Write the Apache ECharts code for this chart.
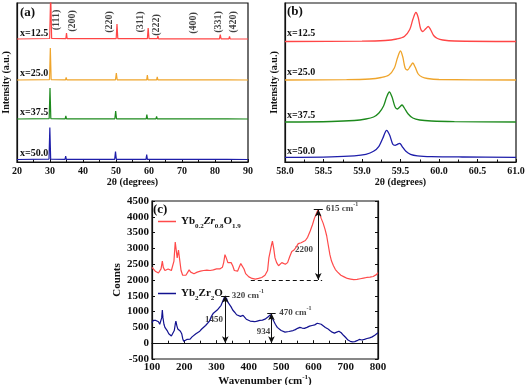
<!DOCTYPE html>
<html>
<head>
<meta charset="utf-8">
<script src="https://cdn.jsdelivr.net/npm/echarts@6/dist/echarts.min.js"></script>
<style>
  html, body { margin: 0; padding: 0; background: #fff; }
  #chart { width: 525px; height: 385px; }
</style>
</head>
<body>
<div id="chart"></div>
<script>
// ---- data ----
const sampleNames = ['x=12.5', 'x=25.0', 'x=37.5', 'x=50.0']
const xrdColors = ['#ff4545', '#efa52c', '#1d8a1d', '#1e1eaa']

// (a) XRD patterns, [2theta, intensity above baseline]
const xrd125 = [[20,0],[29.9,0.5],[30.2,45],[30.5,0.5],[34.8,0.3],[35.0,6],[35.2,0.3],[50.05,0.3],[50.3,15],[50.55,0.3],[59.5,0.3],[59.75,11],[60.0,0.3],[62.5,0.3],[62.7,3],[62.9,0.2],[73.6,0.2],[73.8,1.5],[74.0,0.2],[81.35,0.2],[81.6,4.5],[81.85,0.2],[84.2,0.2],[84.4,2.5],[84.6,0.2],[90,0]]
const xrd250 = [[20,0],[29.85,0.4],[30.1,32],[30.35,0.4],[34.7,0.2],[34.9,2.5],[35.1,0.2],[49.85,0.2],[50.1,7],[50.35,0.2],[59.3,0.2],[59.5,5],[59.7,0.2],[62.3,0.2],[62.5,3],[62.7,0.2],[73.4,0.1],[73.6,0.8],[73.8,0.1],[81.1,0.1],[81.3,2],[81.5,0.1],[83.9,0.1],[84.1,1.2],[84.3,0.1],[90,0]]
const xrd375 = [[20,0],[29.75,0.4],[30.0,31],[30.25,0.4],[34.6,0.2],[34.8,3],[35.0,0.2],[49.65,0.2],[49.9,8],[50.15,0.2],[59.15,0.2],[59.35,4.5],[59.55,0.2],[62.1,0.2],[62.3,2.5],[62.5,0.2],[73.1,0.1],[73.3,0.8],[73.5,0.1],[80.9,0.1],[81.1,1.5],[81.3,0.1],[83.7,0.1],[83.9,1],[84.1,0.1],[90,0]]
const xrd500 = [[20,0],[29.7,0.4],[29.95,32],[30.2,0.4],[34.55,0.2],[34.75,3.5],[34.95,0.2],[49.6,0.2],[49.85,8],[50.1,0.2],[59.1,0.2],[59.3,5],[59.5,0.2],[62.05,0.2],[62.25,2],[62.45,0.2],[73.0,0.1],[73.2,0.8],[73.4,0.1],[80.8,0.1],[81.0,2],[81.2,0.1],[83.6,0.1],[83.8,1],[84.0,0.1],[90,0]]
const xrdOffsets = [123, 82, 43, 2.5]

const hklNames = ['(111)', '(200)', '(220)', '(311)', '(222)', '(400)', '(331)', '(420)']
const hklX = [32.0, 36.7, 48.1, 57.5, 62.2, 73.5, 81.1, 85.6]
const hklY = [142, 141, 140, 140, 137, 139, 140, 140]

// (b) zoom on the (311) doublet
const zoom125 = [[58,0],[59.0,0.3],[59.3,1],[59.45,2.5],[59.55,5],[59.62,12],[59.66,22],[59.70,29],[59.73,24],[59.76,13],[59.79,10],[59.83,13],[59.86,15],[59.89,12],[59.93,6],[59.98,3],[60.05,1.5],[60.2,0.5],[61,0]]
const zoom250 = [[58,0],[58.8,0.3],[59.1,1],[59.25,2.5],[59.35,5],[59.42,12],[59.46,22],[59.50,29],[59.53,23],[59.56,12],[59.59,10],[59.63,14],[59.66,17],[59.69,13],[59.73,6],[59.78,3],[59.85,1.5],[60.0,0.5],[61,0]]
const zoom375 = [[58,0],[58.6,0.5],[58.9,1.5],[59.05,3],[59.15,5],[59.22,9],[59.28,16],[59.32,25],[59.355,30],[59.39,25],[59.43,15],[59.46,13],[59.49,15],[59.52,17],[59.55,14],[59.6,8],[59.66,4],[59.75,2],[59.9,1],[60.2,0.4],[61,0]]
const zoom500 = [[58,0],[58.6,0.5],[58.9,1.5],[59.05,3],[59.15,6],[59.22,11],[59.27,19],[59.32,27],[59.36,22],[59.40,13],[59.43,12],[59.46,13],[59.49,14],[59.52,11],[59.57,6],[59.63,3],[59.72,1.5],[59.9,0.7],[60.3,0.3],[61,0]]
const zoomOffsets = [120.5, 82, 40, 4.7]

// (c) Raman spectra, [wavenumber, counts]
const ramanNames = ['Yb0.2Zr0.8O1.9', 'Yb2Zr2O7']
const ramanColors = ['#ff4a4a', '#121290']
const ramanFluorite = [[100,2400],[105,2350],[110,2280],[115,2250],[120,2220],[125,2230],[128,2350],[132,2600],[135,2400],[140,2300],[145,2330],[150,2350],[155,2320],[160,2300],[165,2350],[168,2600],[172,3200],[175,2950],[178,2700],[182,2950],[185,2700],[190,2300],[195,2150],[200,2100],[205,2150],[210,2200],[215,2320],[220,2250],[230,2200],[240,2250],[250,2280],[260,2300],[270,2310],[280,2300],[290,2320],[300,2350],[305,2400],[310,2350],[318,2400],[322,2550],[326,2800],[330,2700],[335,2550],[340,2580],[345,2550],[350,2450],[355,2300],[360,2250],[365,2280],[370,2400],[375,2520],[380,2500],[385,2350],[390,2200],[400,2100],[410,2050],[420,2030],[430,2050],[440,2080],[450,2150],[458,2300],[462,2700],[466,2900],[470,3100],[473,3230],[477,3000],[481,2700],[486,2550],[492,2450],[497,2480],[502,2550],[507,2530],[513,2500],[520,2550],[527,2750],[533,2900],[540,2950],[547,3050],[553,3150],[557,3200],[562,3180],[568,3200],[575,3250],[582,3350],[590,3550],[597,3750],[603,3950],[609,4100],[614,4220],[619,4100],[624,3950],[630,3800],[636,3600],[641,3400],[646,3100],[651,2800],[656,2600],[662,2450],[668,2330],[675,2250],[685,2150],[695,2100],[705,2050],[715,2030],[725,2010],[735,2020],[745,2040],[755,2060],[765,2080],[775,2090],[785,2110],[795,2170],[800,2230]]
const ramanPyrochlore = [[100,650],[104,720],[108,730],[112,720],[116,700],[120,680],[124,600],[127,560],[130,800],[132,1050],[134,800],[137,600],[140,500],[144,450],[148,380],[152,300],[156,250],[160,230],[165,280],[169,400],[172,600],[174,700],[177,550],[180,450],[184,420],[188,380],[192,300],[195,150],[198,60],[201,100],[204,50],[208,120],[213,150],[218,130],[224,200],[230,250],[236,300],[242,350],[248,380],[254,450],[260,500],[266,560],[272,600],[278,700],[284,850],[290,950],[296,1000],[302,1050],[308,1100],[314,1200],[320,1350],[324,1450],[327,1500],[331,1420],[335,1300],[340,1250],[345,1150],[350,1050],[356,980],[362,900],[368,870],[374,850],[378,900],[382,880],[387,820],[392,760],[398,720],[404,700],[410,720],[418,680],[426,700],[434,720],[442,730],[450,760],[458,820],[463,860],[467,900],[470,950],[473,850],[477,700],[482,600],[488,500],[494,450],[500,400],[506,380],[512,350],[518,330],[524,370],[530,380],[537,400],[544,430],[551,470],[558,500],[565,480],[572,470],[580,500],[588,540],[596,560],[604,580],[612,630],[618,650],[624,600],[630,560],[637,500],[644,460],[651,400],[658,350],[665,320],[672,350],[679,380],[686,330],[693,250],[700,180],[707,100],[714,60],[721,40],[728,50],[735,80],[742,120],[750,100],[758,120],[766,150],[774,170],[782,200],[790,250],[800,330]]

// annotation values in (c)
const fluoriteBase = 2000
const fluoriteBaseSpan = [406, 627]
const fluoritePeak = [615, 4230]
const pyroBase = 0
const pyroBaseSpan = [181, 496]
const pyroPeak1 = [327, 1500]
const pyroPeak2 = [470, 950]
const noteX = [639, 571, 347, 292, 494, 445]
const noteY = [4250, 2950, 1500, 750, 960, 350]
const noteText = ['{b|615 cm}{sup|-1}', '{b|2200}', '{b|320 cm}{sup|-1}', '{b|1450}', '{b|470 cm}{sup|-1}', '{b|934}']
const noteAlign = ['left', 'center', 'left', 'center', 'left', 'center']

// ---- chart ----
const FONT = '"Times New Roman", "Liberation Serif", serif'
const INK = '#111'

const chart = echarts.init(document.getElementById('chart'), null, { renderer: 'canvas' })

const tickLabel = { color: INK, fontFamily: FONT, fontWeight: 'bold', fontSize: 10, margin: 4 }
const lineOf = { show: true, lineStyle: { color: INK, width: 1.2 } }
const tickIn = { show: true, inside: true, length: 3, lineStyle: { color: INK, width: 1 } }
const minorIn = { show: true, splitNumber: 2, length: 2.5, lineStyle: { color: INK, width: 1 } }
const nameStyle = { color: INK, fontFamily: FONT, fontWeight: 'bold', fontSize: 10 }

const richText = {
  b: { fontFamily: FONT, fontWeight: 'bold', fontSize: 11, color: INK },
  i: { fontFamily: FONT, fontWeight: 'bold', fontStyle: 'italic', fontSize: 11, color: INK },
  sub: { fontFamily: FONT, fontWeight: 'bold', fontSize: 7, color: INK, verticalAlign: 'bottom', lineHeight: 16 }
}
const noteRich = {
  b: { fontFamily: FONT, fontWeight: 'bold', fontSize: 9, color: INK, lineHeight: 12 },
  sup: { fontFamily: FONT, fontWeight: 'bold', fontSize: 6, color: INK, verticalAlign: 'top', lineHeight: 14 }
}
const legendText = {
  'Yb0.2Zr0.8O1.9': '{b|Yb}{sub|0.2}{i|Zr}{sub|0.8}{b|O}{sub|1.9}',
  'Yb2Zr2O7': '{b|Yb}{sub|2}{b|Zr}{sub|2}{b|O}{sub|7}'
}

const gridBox = { show: true, borderColor: INK, borderWidth: 1.2, outerBoundsMode: 'none', containLabel: false }

const xrdData = [xrd125, xrd250, xrd375, xrd500]
const zoomData = [zoom125, zoom250, zoom375, zoom500]

const series = []
xrdData.forEach((pts, i) => {
  series.push({
    type: 'line', name: sampleNames[i] + ' a', xAxisIndex: 0, yAxisIndex: 0,
    data: pts.map(p => [p[0], p[1] + xrdOffsets[i]]),
    showSymbol: false, lineStyle: { color: xrdColors[i], width: 1.2 }, itemStyle: { color: xrdColors[i] }
  })
})
zoomData.forEach((pts, i) => {
  series.push({
    type: 'line', name: sampleNames[i] + ' b', xAxisIndex: 1, yAxisIndex: 1,
    data: pts.map(p => [p[0], p[1] + zoomOffsets[i]]),
    showSymbol: false, smooth: 0.3, lineStyle: { color: xrdColors[i], width: 1.3 }, itemStyle: { color: xrdColors[i] }
  })
})

// Miller indices over the peaks
series.push({
  type: 'scatter', name: 'hkl', xAxisIndex: 0, yAxisIndex: 0, symbolSize: 0,
  itemStyle: { color: 'transparent' }, silent: true,
  data: hklX.map((x, i) => ({ value: [x, hklY[i]], label: { formatter: hklNames[i] } })),
  label: { show: true, position: 'inside', rotate: 90, color: INK, fontFamily: FONT, fontWeight: 'bold', fontSize: 10 }
})

const dashed = { type: [4, 3], color: INK, width: 1 }
series.push({
  type: 'line', name: ramanNames[0], xAxisIndex: 2, yAxisIndex: 2, data: ramanFluorite,
  showSymbol: false, lineStyle: { color: ramanColors[0], width: 1.2 }, itemStyle: { color: ramanColors[0] },
  markLine: {
    silent: true, symbol: 'none', symbolSize: [5, 7], label: { show: false }, animation: false,
    lineStyle: { color: INK, width: 1, type: 'solid' },
    data: [
      [{ coord: [fluoriteBaseSpan[0], fluoriteBase], lineStyle: dashed }, { coord: [fluoriteBaseSpan[1], fluoriteBase] }],
      [{ coord: [fluoritePeak[0], fluoriteBase], symbol: 'arrow' }, { coord: fluoritePeak, symbol: 'arrow' }],
      [{ coord: [fluoritePeak[0] - 14, fluoritePeak[1]] }, { coord: [fluoritePeak[0] + 14, fluoritePeak[1]] }]
    ]
  }
})
series.push({
  type: 'line', name: ramanNames[1], xAxisIndex: 2, yAxisIndex: 2, data: ramanPyrochlore,
  showSymbol: false, lineStyle: { color: ramanColors[1], width: 1.2 }, itemStyle: { color: ramanColors[1] },
  markLine: {
    silent: true, symbol: 'none', symbolSize: [5, 7], label: { show: false }, animation: false,
    lineStyle: { color: INK, width: 1, type: 'solid' },
    data: [
      [{ coord: [pyroBaseSpan[0], pyroBase], lineStyle: dashed }, { coord: [pyroBaseSpan[1], pyroBase] }],
      [{ coord: [pyroPeak1[0], pyroBase], symbol: 'arrow' }, { coord: pyroPeak1, symbol: 'arrow' }],
      [{ coord: [pyroPeak1[0] - 13, pyroPeak1[1]] }, { coord: [pyroPeak1[0] + 13, pyroPeak1[1]] }],
      [{ coord: [pyroPeak2[0], pyroBase], symbol: 'arrow' }, { coord: pyroPeak2, symbol: 'arrow' }],
      [{ coord: [pyroPeak2[0] - 13, pyroPeak2[1]] }, { coord: [pyroPeak2[0] + 13, pyroPeak2[1]] }]
    ]
  }
})
series.push({
  type: 'scatter', name: 'notes', xAxisIndex: 2, yAxisIndex: 2, symbolSize: 0,
  itemStyle: { color: 'transparent' }, silent: true,
  data: noteX.map((x, i) => ({ value: [x, noteY[i]], label: { formatter: noteText[i], align: noteAlign[i] } })),
  label: { show: true, position: 'inside', verticalAlign: 'middle', rich: noteRich }
})

const option = {
  animation: false,
  backgroundColor: '#fff',
  grid: [
    Object.assign({ left: 17, top: 3, width: 231, height: 159 }, gridBox),
    Object.assign({ left: 285, top: 3, width: 231, height: 159 }, gridBox),
    Object.assign({ left: 152, top: 201, width: 226, height: 158 }, gridBox)
  ],
  xAxis: [
    {
      gridIndex: 0, type: 'value', min: 20, max: 90, interval: 10,
      axisLine: lineOf, axisTick: tickIn, minorTick: minorIn, splitLine: { show: false },
      axisLabel: tickLabel,
      name: '2θ (degrees)', nameLocation: 'middle', nameGap: 15, nameTextStyle: nameStyle
    },
    {
      gridIndex: 1, type: 'value', min: 58, max: 61, interval: 0.5,
      axisLine: lineOf, axisTick: tickIn, minorTick: minorIn, splitLine: { show: false },
      axisLabel: Object.assign({ formatter: v => v.toFixed(1) }, tickLabel),
      name: '2θ (degrees)', nameLocation: 'middle', nameGap: 15, nameTextStyle: nameStyle
    },
    {
      gridIndex: 2, type: 'value', min: 100, max: 800, interval: 100,
      axisLine: lineOf, axisTick: tickIn, minorTick: minorIn, splitLine: { show: false },
      axisLabel: Object.assign({}, tickLabel, { fontSize: 11, margin: 3, formatter: v => String(v) }),
      name: '{n|Wavenumber (cm}{s|-1}{n|)}', nameLocation: 'middle', nameGap: 14,
      nameTextStyle: {
        rich: {
          n: { color: INK, fontFamily: FONT, fontWeight: 'bold', fontSize: 11, lineHeight: 13 },
          s: { color: INK, fontFamily: FONT, fontWeight: 'bold', fontSize: 7, verticalAlign: 'top', lineHeight: 14 }
        }
      }
    }
  ],
  yAxis: [
    {
      gridIndex: 0, type: 'value', min: 0, max: 159,
      axisLine: lineOf, axisTick: { show: false }, axisLabel: { show: false }, splitLine: { show: false },
      name: 'Intensity (a.u.)', nameLocation: 'middle', nameGap: 6, nameTextStyle: nameStyle
    },
    {
      gridIndex: 1, type: 'value', min: 0, max: 159,
      axisLine: lineOf, axisTick: { show: false }, axisLabel: { show: false }, splitLine: { show: false },
      name: 'Intensity (a.u.)', nameLocation: 'middle', nameGap: 6, nameTextStyle: nameStyle
    },
    {
      gridIndex: 2, type: 'value', min: -500, max: 4500, interval: 500,
      axisLine: lineOf, axisTick: tickIn, splitLine: { show: false },
      axisLabel: Object.assign({}, tickLabel, { fontSize: 11, margin: 3, formatter: v => String(v) }),
      name: 'Counts', nameLocation: 'middle', nameGap: 27,
      nameTextStyle: Object.assign({}, nameStyle, { fontSize: 11 })
    },
    {
      gridIndex: 2, type: 'value', min: -500, max: 4500, interval: 500, position: 'right',
      axisLine: lineOf, axisTick: tickIn, axisLabel: { show: false }, splitLine: { show: false }
    }
  ],
  legend: [
    {
      data: [ramanNames[0]], left: 158, top: 216, padding: 0, orient: 'vertical',
      icon: 'rect', itemWidth: 18, itemHeight: 1.5, itemGap: 4,
      formatter: n => legendText[n], textStyle: { rich: richText }, selectedMode: false
    },
    {
      data: [ramanNames[1]], left: 158, top: 288, padding: 0, orient: 'vertical',
      icon: 'rect', itemWidth: 18, itemHeight: 1.5, itemGap: 4,
      formatter: n => legendText[n], textStyle: { rich: richText }, selectedMode: false
    }
  ],
  graphic: [
    { type: 'text', x: 20, y: 13, z: 100, style: { text: '(a)', font: 'bold 13px ' + FONT, fill: INK, verticalAlign: 'middle' } },
    { type: 'text', x: 287, y: 12, z: 100, style: { text: '(b)', font: 'bold 13px ' + FONT, fill: INK, verticalAlign: 'middle' } },
    { type: 'text', x: 153, y: 210, z: 100, style: { text: '(c)', font: 'bold 13px ' + FONT, fill: INK, verticalAlign: 'middle' } },
    { type: 'text', x: 20, y: 33, z: 100, style: { text: sampleNames[0], font: 'bold 10px ' + FONT, fill: INK, verticalAlign: 'middle' } },
    { type: 'text', x: 20, y: 73, z: 100, style: { text: sampleNames[1], font: 'bold 10px ' + FONT, fill: INK, verticalAlign: 'middle' } },
    { type: 'text', x: 20, y: 112, z: 100, style: { text: sampleNames[2], font: 'bold 10px ' + FONT, fill: INK, verticalAlign: 'middle' } },
    { type: 'text', x: 20, y: 153, z: 100, style: { text: sampleNames[3], font: 'bold 10px ' + FONT, fill: INK, verticalAlign: 'middle' } },
    { type: 'text', x: 287, y: 33, z: 100, style: { text: sampleNames[0], font: 'bold 10px ' + FONT, fill: INK, verticalAlign: 'middle' } },
    { type: 'text', x: 287, y: 72, z: 100, style: { text: sampleNames[1], font: 'bold 10px ' + FONT, fill: INK, verticalAlign: 'middle' } },
    { type: 'text', x: 287, y: 115, z: 100, style: { text: sampleNames[2], font: 'bold 10px ' + FONT, fill: INK, verticalAlign: 'middle' } },
    { type: 'text', x: 287, y: 151, z: 100, style: { text: sampleNames[3], font: 'bold 10px ' + FONT, fill: INK, verticalAlign: 'middle' } }
  ],
  series: series
}

chart.setOption(option)
</script>
</body>
</html>
